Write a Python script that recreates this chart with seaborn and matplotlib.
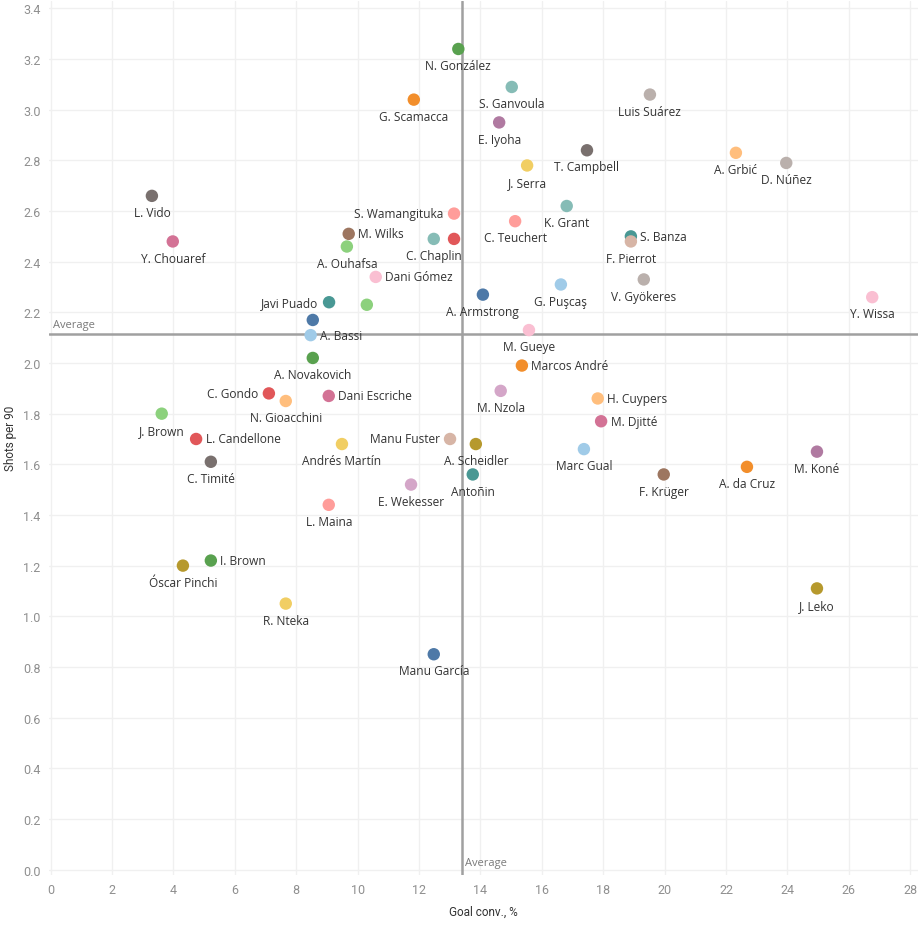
import matplotlib
matplotlib.use("Agg")
import matplotlib.pyplot as plt
from matplotlib import font_manager
import seaborn as sns
import pandas as pd

players = [
    "N. González", "G. Scamacca", "S. Ganvoula", "Luis Suárez", "E. Iyoha",
    "T. Campbell", "J. Serra", "A. Grbić", "D. Núñez", "L. Vido",
    "Y. Chouaref", "S. Wamangituka", "K. Grant", "C. Teuchert", "M. Wilks",
    "C. Chaplin", "(unlabeled red)", "A. Ouhafsa", "S. Banza", "F. Pierrot",
    "Dani Gómez", "G. Puşcaş", "V. Gyökeres", "A. Armstrong", "Y. Wissa",
    "Javi Puado", "(unlabeled green)", "(unlabeled blue)", "A. Bassi", "M. Gueye",
    "A. Novakovich", "Marcos André", "C. Gondo", "N. Gioacchini", "Dani Escriche",
    "M. Nzola", "H. Cuypers", "J. Brown", "M. Djitté", "L. Candellone",
    "Manu Fuster", "Andrés Martín", "A. Scheidler", "Marc Gual", "M. Koné",
    "C. Timité", "A. da Cruz", "Antoñin", "F. Krüger", "E. Wekesser",
    "L. Maina", "I. Brown", "Óscar Pinchi", "J. Leko", "R. Nteka",
    "Manu García",
]
goal_conv = [
    13.28, 11.83, 15.02, 19.52, 14.61,
    17.47, 15.52, 22.32, 23.96, 3.30,
    3.98, 13.14, 16.81, 15.13, 9.71,
    12.48, 13.14, 9.65, 18.90, 18.90,
    10.59, 16.62, 19.32, 14.08, 26.76,
    9.07, 10.30, 8.54, 8.47, 15.58,
    8.54, 15.35, 7.11, 7.66, 9.06,
    14.66, 17.82, 3.62, 17.93, 4.74,
    13.01, 9.49, 13.85, 17.37, 24.96,
    5.22, 22.68, 13.75, 19.97, 11.74,
    9.06, 5.22, 4.31, 24.96, 7.66,
    12.48,
]
shots_p90 = [
    3.24, 3.04, 3.09, 3.06, 2.95,
    2.84, 2.78, 2.83, 2.79, 2.66,
    2.48, 2.59, 2.62, 2.56, 2.51,
    2.49, 2.49, 2.46, 2.50, 2.48,
    2.34, 2.31, 2.33, 2.27, 2.26,
    2.24, 2.23, 2.17, 2.11, 2.13,
    2.02, 1.99, 1.88, 1.85, 1.87,
    1.89, 1.86, 1.80, 1.77, 1.70,
    1.70, 1.68, 1.68, 1.66, 1.65,
    1.61, 1.59, 1.56, 1.56, 1.52,
    1.44, 1.22, 1.20, 1.11, 1.05,
    0.85,
]
avg_goal_conv = 13.39
avg_shots = 2.114

# Tableau 20 colours per player
colors = [
    "#59A14F", "#F28E2B", "#86BCB6", "#BAB0AC", "#B07AA1",
    "#79706E", "#F1CE63", "#FFBE7D", "#BAB0AC", "#79706E",
    "#D37295", "#FF9D9A", "#86BCB6", "#FF9D9A", "#9D7660",
    "#86BCB6", "#E15759", "#8CD17D", "#499894", "#D7B5A6",
    "#FABFD2", "#A0CBE8", "#BAB0AC", "#4E79A7", "#FABFD2",
    "#499894", "#8CD17D", "#4E79A7", "#A0CBE8", "#FABFD2",
    "#59A14F", "#F28E2B", "#E15759", "#FFBE7D", "#D37295",
    "#D4A6C8", "#FFBE7D", "#8CD17D", "#D37295", "#E15759",
    "#D7B5A6", "#F1CE63", "#B6992D", "#A0CBE8", "#B07AA1",
    "#79706E", "#F28E2B", "#499894", "#9D7660", "#D4A6C8",
    "#FF9D9A", "#59A14F", "#B6992D", "#B6992D", "#F1CE63",
    "#4E79A7",
]

right_labels = {"S. Banza", "M. Wilks", "Dani Gómez", "A. Bassi", "Marcos André",
                "Dani Escriche", "H. Cuypers", "M. Djitté", "L. Candellone", "I. Brown"}
left_labels = {"S. Wamangituka", "Javi Puado", "C. Gondo", "Manu Fuster"}
hidden_labels = {"(unlabeled red)", "(unlabeled green)", "(unlabeled blue)"}

df = pd.DataFrame({"player": players, "conv": goal_conv, "shots": shots_p90})

sns.set_theme(style="white")
plt.rcParams["font.family"] = ["Open Sans", "DejaVu Sans"]

tick_family = ["Roboto", "DejaVu Sans"]

fig = plt.figure(figsize=(9.2, 9.29), dpi=100)
ax = fig.add_axes([0.0533, 0.0575, 0.9445, 0.9405])

ax.set_xlim(-0.05, 28.25)
ax.set_ylim(-0.02, 3.43)
ax.set_xticks(range(0, 29, 2))
ax.set_yticks([i / 10 for i in range(0, 35, 2)])
ax.set_yticklabels([f"{i/10:.1f}" for i in range(0, 35, 2)])
ax.grid(True, color="#f0f0f0", linewidth=1.0)
ax.set_axisbelow(True)
for s in ax.spines.values():
    s.set_visible(False)

ax.axhline(avg_shots, color="#a0a0a0", linewidth=1.8, zorder=1)
ax.axvline(avg_goal_conv, color="#a0a0a0", linewidth=1.8, zorder=1)
ax.text(0.08, avg_shots + 0.015, "Average", fontsize=8, color="#7a7a7a",
        ha="left", va="bottom")
ax.text(avg_goal_conv + 0.12, 0.005, "Average", fontsize=8, color="#7a7a7a",
        ha="left", va="bottom")

palette = dict(zip(players, colors))
sns.scatterplot(data=df, x="conv", y="shots", hue="player", palette=palette,
                s=80, linewidth=0, legend=False, ax=ax, zorder=3)

for name, x, y in zip(players, goal_conv, shots_p90):
    if name in hidden_labels:
        continue
    if name in right_labels:
        ax.annotate(name, (x, y), xytext=(6.8, 0), textcoords="offset points",
                    ha="left", va="center", fontsize=8.6, color="#333333")
    elif name in left_labels:
        ax.annotate(name, (x, y), xytext=(-7.5, 0), textcoords="offset points",
                    ha="right", va="center", fontsize=8.6, color="#333333")
    else:
        ax.annotate(name, (x, y), xytext=(0, -12), textcoords="offset points",
                    ha="center", va="center", fontsize=8.6, color="#333333")

ax.tick_params(axis="both", length=0, labelsize=9, labelcolor="#8f8f8f", pad=6)
for lbl in ax.get_xticklabels() + ax.get_yticklabels():
    lbl.set_family(tick_family)
ax.set_xlabel("Goal conv., %", fontsize=8.5, color="#333333",
              family=tick_family)
ax.set_ylabel("Shots per 90", fontsize=8.5, color="#333333",
              family=tick_family)
ax.xaxis.set_label_coords(0.5, -0.042)
ax.yaxis.set_label_coords(-0.044, 0.5)
ax.yaxis.label.set_va("center")
ax.xaxis.label.set_va("center")

fig.savefig("out.png", dpi=100)
